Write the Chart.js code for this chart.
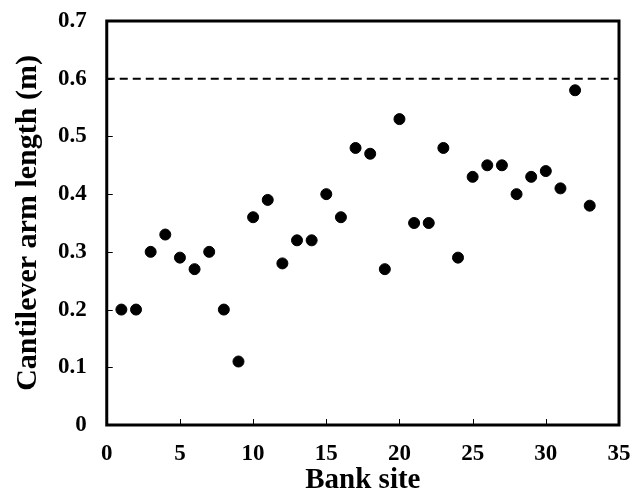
<!DOCTYPE html>
<html>
<head>
<meta charset="utf-8">
<script src="https://cdn.jsdelivr.net/npm/chart.js@4"></script>
<style>
  html, body { margin: 0; padding: 0; background: #fff; }
  #wrap { width: 643px; height: 495px; }
</style>
</head>
<body>
<div id="wrap"><canvas id="chart"></canvas></div>
<script>
// bank sites and measured cantilever arm lengths (m)
const sites = [1, 2, 3, 4, 5, 6, 7, 8, 9, 10, 11, 12, 13, 14, 15, 16, 17,
  18, 19, 20, 21, 22, 23, 24, 25, 26, 27, 28, 29, 30, 31, 32, 33];
const armLength = [0.20, 0.20, 0.30, 0.33, 0.29, 0.27, 0.30, 0.20, 0.11, 0.36, 0.39,
  0.28, 0.32, 0.32, 0.40, 0.36, 0.48, 0.47, 0.27, 0.53, 0.35, 0.35, 0.48,
  0.29, 0.43, 0.45, 0.45, 0.40, 0.43, 0.44, 0.41, 0.58, 0.38];
const criticalX = [0, 35];
const criticalY = [0.6, 0.6];

const FONT = '"Liberation Serif", "Times New Roman", serif';

// box round the plot + small inward ticks
const frame = {
  id: 'frame',
  afterDatasetsDraw(chart) {
    const { ctx, chartArea: a, scales } = chart;
    ctx.save();
    ctx.strokeStyle = '#000';
    ctx.lineWidth = 1;
    scales.x.ticks.forEach(t => {
      const px = Math.round(scales.x.getPixelForValue(t.value)) + 0.5;
      ctx.beginPath(); ctx.moveTo(px, a.bottom); ctx.lineTo(px, a.bottom - 6); ctx.stroke();
    });
    scales.y.ticks.forEach(t => {
      const py = Math.round(scales.y.getPixelForValue(t.value)) + 0.5;
      ctx.beginPath(); ctx.moveTo(a.left, py); ctx.lineTo(a.left + 6, py); ctx.stroke();
    });
    ctx.lineWidth = 3;
    ctx.strokeRect(a.left, a.top, a.right - a.left, a.bottom - a.top);
    ctx.restore();
  }
};

// chart.js reserves tick padding twice and adds label overflow; undo that
function tightX(scale) {
  scale.height -= scale.options.ticks.padding;
  scale.paddingLeft = 0;
  scale.paddingRight = 0;
}
function tightY(scale) {
  scale.width -= scale.options.ticks.padding;
  scale.paddingTop = 0;
  scale.paddingBottom = 0;
}

new Chart(document.getElementById('chart'), {
  type: 'scatter',
  data: {
    datasets: [{
      label: 'Arm length',
      data: sites.map((s, i) => ({ x: s, y: armLength[i] })),
      backgroundColor: '#000',
      borderColor: '#000',
      pointRadius: 5.5
    }, {
      type: 'line',
      label: 'Critical',
      data: criticalX.map((x, i) => ({ x, y: criticalY[i] })),
      borderColor: '#000',
      borderWidth: 2,
      borderDash: [8, 5],
      pointRadius: 0,
      fill: false
    }]
  },
  options: {
    responsive: true,
    maintainAspectRatio: false,
    animation: false,
    layout: { padding: { top: 21, right: 24, bottom: 0, left: 10 } },
    scales: {
      x: {
        min: 0, max: 35,
        afterFit: tightX,
        ticks: { stepSize: 5, color: '#000', padding: 18,
          font: { family: FONT, size: 23, weight: 'bold', lineHeight: 1 } },
        grid: { drawOnChartArea: false, drawTicks: false },
        border: { display: false },
        title: { display: true, text: 'Bank site', color: '#000', padding: { top: 0, bottom: 0 },
          font: { family: FONT, size: 29, weight: 'bold', lineHeight: 1 } }
      },
      y: {
        min: 0, max: 0.7,
        afterFit: tightY,
        ticks: { stepSize: 0.1, color: '#000', padding: 20,
          font: { family: FONT, size: 23, weight: 'bold', lineHeight: 1 },
          callback: v => v === 0 ? '0' : v.toFixed(1) },
        grid: { drawOnChartArea: false, drawTicks: false },
        border: { display: false },
        title: { display: true, text: 'Cantilever arm length (m)', color: '#000', padding: { top: 0, bottom: 12 },
          font: { family: FONT, size: 30, weight: 'bold', lineHeight: 1.2 } }
      }
    },
    plugins: {
      legend: { display: false },
      tooltip: { enabled: false }
    }
  },
  plugins: [frame]
});
</script>
</body>
</html>
